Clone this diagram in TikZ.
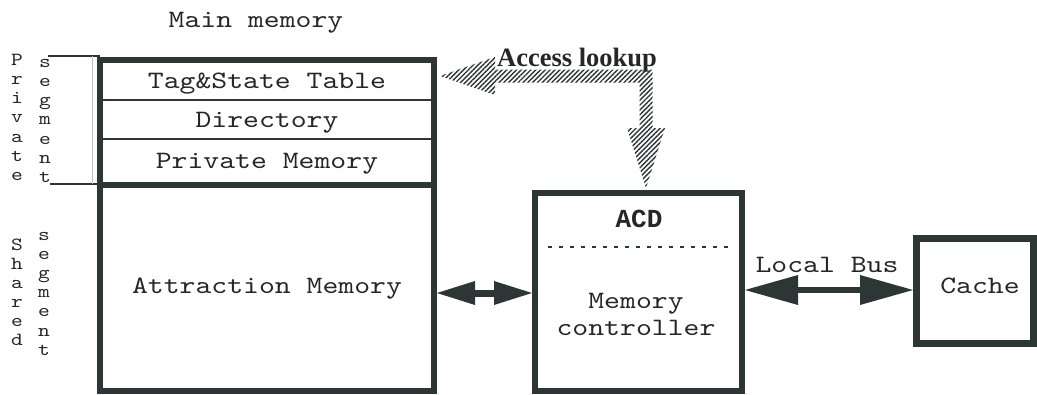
\documentclass[tikz,border=0pt]{standalone}
\usepackage{fontspec}
\newfontfamily\courfont{lmmono10-regular.otf}[FakeStretch=1.21]
\newfontfamily\courbold{Liberation Mono}
\newfontfamily\timesfont{Liberation Serif}
\usetikzlibrary{arrows.meta,calc,patterns.meta}
\definecolor{ink}{RGB}{44,54,52}
\definecolor{txt}{RGB}{38,38,38}
\begin{document}
\begin{tikzpicture}[x=1pt,y=-1pt,
  heavybox/.style={draw=ink,line width=6pt,fill=white,inner sep=0pt},
  monolabel/.style={font=\courfont\fontsize{25}{30}\selectfont,text=txt,anchor=base,inner sep=0pt},
  monobold/.style={font=\courbold\bfseries\fontsize{26}{30}\selectfont,text=txt,anchor=base,inner sep=0pt},
  letter/.style={font=\courfont\fontsize{18.5}{19}\selectfont,text=txt,anchor=base,inner sep=0pt},
  rowline/.style={draw=ink,line width=2.5pt},
  fatarrow/.style={draw=ink,line width=7pt,
    {Triangle[length=38pt 0 0,width=24pt 0 0,line width=0pt 0]}-{Triangle[length=38pt 0 0,width=24pt 0 0,line width=0pt 0]}},
  busarrow/.style={draw=ink,line width=6pt,
    {Triangle[length=53pt 0 0,width=30pt 0 0,line width=0pt 0]}-{Triangle[length=53pt 0 0,width=30pt 0 0,line width=0pt 0]}},
  hatch/.style={pattern={Lines[angle=45,distance=3.4pt,line width=1.4pt]},pattern color=ink}
]
\useasboundingbox (0,0) rectangle (1037,394);

% main memory block
\node[monolabel] (title) at (256,27) {Main memory};
\node[heavybox,minimum width=334pt,minimum height=331pt] (mem) at (267,225.5) {};
\draw[rowline] (100,100) -- (434,100);
\draw[rowline] (100,139) -- (434,139);
\draw[draw=ink,line width=6pt] (97,185) -- (437,185);
\node[monolabel] (tag) at (267,88) {Tag\&State Table};
\node[monolabel] (dir) at (267,127) {Directory};
\node[monolabel] (priv) at (267,168) {Private Memory};
\node[monolabel] (attr) at (267,293) {Attraction Memory};

% bracket of the private segment
\draw[ink,line width=1.2pt] (48,56) -- (100,56);
\draw[ink,line width=1.2pt] (50,184) -- (100,184);
\draw[gray!50,line width=0.8pt] (92,56) -- (92,184);

% vertical segment labels
\foreach \c [count=\i] in {P,r,i,v,a,t,e}
  \node[letter] (pv\i) at (17,{65+19.3*(\i-1)}) {\c};
\foreach \c [count=\i] in {s,e,g,m,e,n,t}
  \node[letter] (ps\i) at (45,{67+19.3*(\i-1)}) {\c};
\foreach \c [count=\i] in {S,h,a,r,e,d}
  \node[letter] (sh\i) at (17,{250+19*(\i-1)}) {\c};
\foreach \c [count=\i] in {s,e,g,m,e,n,t}
  \node[letter] (ss\i) at (44,{240+19.2*(\i-1)}) {\c};

% memory controller
\node[heavybox,minimum width=207pt,minimum height=198pt] (acd) at (638.5,292) {};
\node[monobold] (acdt) at (639,227) {ACD};
\draw[ink,line width=1.6pt,dash pattern=on 4pt off 7pt] (548,247) -- (730,247);
\node[monolabel] (mc1) at (636,308) {Memory};
\node[monolabel] (mc2) at (636,335) {controller};

% cache
\node[draw=ink,line width=7pt,fill=white,inner sep=0pt,minimum width=117pt,minimum height=105pt] (cache) at (975,291) {};
\node[monolabel] (cachet) at (980,293) {Cache};

% connections
\draw[fatarrow] (mem.east |- 0,293) -- (acd.west |- 0,293);
\draw[busarrow] (acd.east |- 0,290) -- (cache.west |- 0,290);
\node[monolabel] (bus) at (827,272) {Local Bus};

% access lookup path
\coordinate (hl) at ($(mem.north east)+(3,19)$);
\coordinate (hd) at ($(acd.north)+(7.5,-2)$);
\fill[hatch] (hl) -- ++(55,-19) -- ++(0,12.5) -- ($(hd|-hl)+(6.5,-6.5)$)
  -- ($(hd)+(6.5,-60)$) -- ++(12.5,0) -- (hd) -- ++(-19,-60) -- ++(12.5,0)
  -- ($(hd|-hl)+(-6.5,6.5)$) -- ($(hl)+(55,6.5)$) -- ++(0,12.5) -- cycle;
\node[font=\timesfont\bfseries\fontsize{26.5}{30}\selectfont,text=txt,anchor=base,inner sep=0pt] (acc) at (577,66) {Access lookup};
\end{tikzpicture}
\end{document}
